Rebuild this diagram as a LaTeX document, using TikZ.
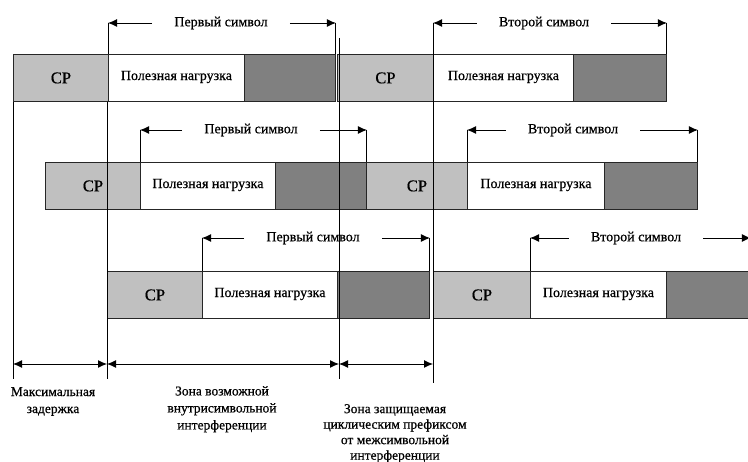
\documentclass[tikz,border=0pt]{standalone}
\usepackage{fontspec}
\setmainfont{Liberation Serif}[FakeBold=0.6]
\usepackage{xcolor}
\usetikzlibrary{arrows.meta,positioning}
\definecolor{cpgray}{RGB}{192,192,192}
\definecolor{gigray}{RGB}{128,128,128}

\begin{document}
\begin{tikzpicture}[x=1pt, y=-1pt,
  blk/.style={rectangle, draw=black!85, line width=0.9pt, fill=#1, anchor=north west,
    minimum height=47pt, inner sep=0pt, font=\fontsize{14}{16}\selectfont},
  cp/.style={blk=cpgray, minimum width=#1, font=\fontsize{16.5}{18}\selectfont},
  pay/.style={blk=white, minimum width=#1},
  gi/.style={blk=gigray, minimum width=#1},
  sym/.style={fill=white, inner xsep=22pt, inner ysep=1pt, font=\fontsize{14}{16}\selectfont},
  arr/.style={-{Latex[length=9pt,width=8pt]}, line width=0.9pt},
  dim/.style={{Latex[length=9pt,width=8pt]}-{Latex[length=9pt,width=8pt]}, line width=0.9pt},
  zone/.style={align=center, anchor=north, inner sep=0pt, font=\fontsize{13.5}{#1}\selectfont}
]
\useasboundingbox (0,0) rectangle (748,462);
% First row
\node[cp=95pt] (cp1a) at (13,54) {CP};
\node[pay=136pt] (pay1a) at (108,54) {\raisebox{5pt}{Полезная нагрузка}};
\node[gi=91pt] (gi1a) at (244,54) {};
\node[cp=96pt] (cp1b) at (337,54) {CP};
\node[pay=140pt] (pay1b) at (433,54) {\raisebox{5pt}{Полезная нагрузка}};
\node[gi=93pt] (gi1b) at (573,54) {};
% Second row
\node[cp=95pt] (cp2a) at (45,162) {CP};
\node[pay=135pt] (pay2a) at (140,162) {\raisebox{5pt}{Полезная нагрузка}};
\node[gi=91pt] (gi2a) at (275,162) {};
\node[cp=101pt] (cp2b) at (366,162) {CP};
\node[pay=137pt] (pay2b) at (467,162) {\raisebox{5pt}{Полезная нагрузка}};
\node[gi=93pt] (gi2b) at (604,162) {};
% Third row
\node[cp=95pt] (cp3a) at (107,271) {CP};
\node[pay=135pt] (pay3a) at (202,271) {\raisebox{5pt}{Полезная нагрузка}};
\node[gi=92pt] (gi3a) at (337,271) {};
\node[cp=97pt] (cp3b) at (433,271) {CP};
\node[pay=136pt] (pay3b) at (530,271) {\raisebox{5pt}{Полезная нагрузка}};
\node[gi=84pt] (gi3b) at (666,271) {};
% Symbol spans
\node[sym] (s1a) at (221,23) {Первый символ};
\node[sym] (s1b) at (544,23) {Второй символ};
\node[sym] (s2a) at (251,130) {Первый символ};
\node[sym] (s2b) at (573,130) {Второй символ};
\node[sym] (s3a) at (313,238) {Первый символ};
\node[sym] (s3b) at (636,238) {Второй символ};
\draw[arr] (s1a.west) -- (s1a.west -| pay1a.west) edge[-] (pay1a.north west);
\draw[arr] (s1a.east) -- (s1a.east -| gi1a.east) edge[-] (gi1a.north east);
\draw[arr] (s1b.west) -- (s1b.west -| pay1b.west) edge[-] (pay1b.north west);
\draw[arr] (s1b.east) -- (s1b.east -| gi1b.east) edge[-] (gi1b.north east);
\draw[arr] (s2a.west) -- (s2a.west -| pay2a.west) edge[-] (pay2a.north west);
\draw[arr] (s2a.east) -- (s2a.east -| gi2a.east) edge[-] (gi2a.north east);
\draw[arr] (s2b.west) -- (s2b.west -| pay2b.west) edge[-] (pay2b.north west);
\draw[arr] (s2b.east) -- (s2b.east -| gi2b.east) edge[-] (gi2b.north east);
\draw[arr] (s3a.west) -- (s3a.west -| pay3a.west) edge[-] (pay3a.north west);
\draw[arr] (s3a.east) -- (s3a.east -| gi3a.east) edge[-] (gi3a.north east);
\draw[arr] (s3b.west) -- (s3b.west -| pay3b.west) edge[-] (pay3b.north west);
\draw[arr] (s3b.east) -- (s3b.east -| gi3b.east) edge[-] (gi3b.north east);
% Zone boundaries
\coordinate (t2) at (339,38);
\coordinate (b0) at (13,379);
\coordinate (b1) at (107,379);
\coordinate (b2) at (339,379);
\coordinate (b3) at (433,383);
\draw[line width=0.9pt] (cp1a.south west) -- (b0);
\draw[line width=0.9pt] (b1 |- cp1a.south) -- (b1);
\draw[line width=0.9pt] (t2) -- (b2);
\draw[line width=0.9pt] (pay1b.north west) -- (b3);
\coordinate (m0) at (13,364);
\coordinate (m1) at (107,364);
\coordinate (m2) at (339,364);
\coordinate (m3) at (433,364);
\draw[dim] (m0) -- (m1);
\draw[dim] (m1) -- (m2);
\draw[dim] (m2) -- (m3);
% Zone labels
\node[zone=17] (zd) at (53,387) {Максимальная\\задержка};
\node[zone=17] (zi) at (222,386) {Зона возможной\\внутрисимвольной\\интерференции};
\node[zone=15.5] (zp) at (395,404) {Зона защищаемая\\циклическим префиксом\\от межсимвольной\\интерференции};
\end{tikzpicture}
\end{document}
